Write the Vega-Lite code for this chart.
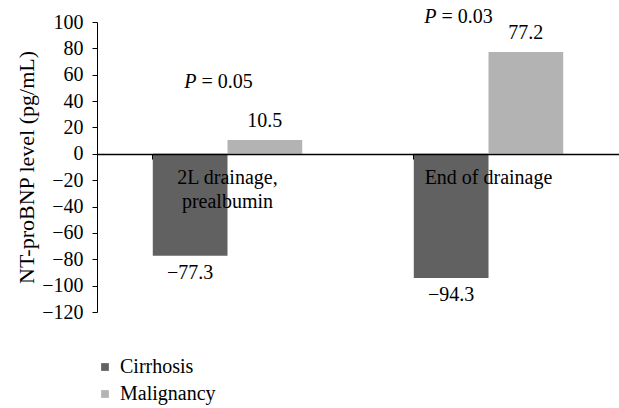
{
  "$schema": "https://vega.github.io/schema/vega-lite/v6.json",
  "width": 522,
  "height": 290,
  "autosize": {"type": "none"},
  "padding": {"left": 97, "top": 22, "right": 0, "bottom": 96},
  "config": {
    "font": "Liberation Serif",
    "view": {"stroke": null},
    "axis": {"labelFont": "Liberation Serif", "titleFont": "Liberation Serif", "labelFontSize": 20, "labelColor": "#000000", "titleColor": "#000000"},
    "axisY": {"labelOverlap": false, "labelFlush": false, "tickSize": 5, "labelPadding": 9, "titlePadding": 3, "titleFontSize": 22, "titleFontWeight": "normal", "grid": false, "domainColor": "#000000", "tickColor": "#000000"},
    "legend": {"labelFont": "Liberation Serif", "labelFontSize": 20}
  },
  "datasets": {
    "bars": [
      {"group": "2L drainage, prealbumin", "series": "Cirrhosis", "value": -77.3},
      {"group": "2L drainage, prealbumin", "series": "Malignancy", "value": 10.5},
      {"group": "End of drainage", "series": "Cirrhosis", "value": -94.3},
      {"group": "End of drainage", "series": "Malignancy", "value": 77.2}
    ],
    "pvals": [
      {"group": "2L drainage, prealbumin", "p": "P", "rest": "= 0.05", "value": 54.5},
      {"group": "End of drainage", "p": "P", "rest": "= 0.03", "value": 104}
    ]
  },
  "encoding": {
    "x": {
      "field": "group",
      "type": "nominal",
      "sort": ["2L drainage, prealbumin", "End of drainage"],
      "scale": {"paddingInner": 0.4275, "paddingOuter": 0.21375},
      "axis": {
        "title": null,
        "orient": "bottom",
        "offset": -158,
        "zindex": 1,
        "bandPosition": 0,
        "labelAngle": 0,
        "labelFontSize": 20,
        "labelFont": "Liberation Serif",
        "labelColor": "#000000",
        "labelBaseline": "top",
        "labelPadding": 8,
        "labelLineHeight": 24,
        "labelOverlap": false,
        "labelExpr": "datum.label == '2L drainage, prealbumin' ? ['2L drainage,', 'prealbumin'] : datum.label",
        "domainColor": "#000000",
        "domainWidth": 1.5,
        "tickColor": "#000000",
        "tickSize": 5,
        "tickWidth": 1,
        "grid": false
      }
    },
    "y": {
      "field": "value",
      "type": "quantitative",
      "scale": {"domain": [-120, 100], "nice": false, "zero": false},
      "axis": {
        "values": [-120, -100, -80, -60, -40, -20, 0, 20, 40, 60, 80, 100],
        "title": "NT-proBNP level (pg/mL)"
      }
    }
  },
  "layer": [
    {
      "data": {"name": "bars"},
      "mark": {"type": "bar"},
      "encoding": {
        "xOffset": {"field": "series", "type": "nominal", "scale": {"paddingInner": 0, "paddingOuter": 0}},
        "color": {
          "field": "series",
          "type": "nominal",
          "scale": {"domain": ["Cirrhosis", "Malignancy"], "range": ["#616161", "#b3b3b3"]},
          "legend": {
            "title": null,
            "orient": "none",
            "legendX": -2,
            "legendY": 335,
            "symbolType": "square",
            "symbolSize": 60,
            "symbolStrokeWidth": 0,
            "labelFontSize": 20,
            "labelFont": "Liberation Serif",
            "labelColor": "#000000",
            "labelOffset": 5,
            "rowPadding": 7
          }
        }
      }
    },
    {
      "data": {"name": "bars"},
      "transform": [{"filter": "datum.value >= 0"}],
      "mark": {"type": "text", "baseline": "middle", "dy": -19, "font": "Liberation Serif", "fontSize": 20, "color": "#000000"},
      "encoding": {
        "xOffset": {"field": "series", "type": "nominal"},
        "text": {"field": "value", "type": "quantitative", "format": ".1f"}
      }
    },
    {
      "data": {"name": "bars"},
      "transform": [{"filter": "datum.value < 0"}],
      "mark": {"type": "text", "baseline": "middle", "dy": 17, "font": "Liberation Serif", "fontSize": 20, "color": "#000000"},
      "encoding": {
        "xOffset": {"field": "series", "type": "nominal"},
        "text": {"field": "value", "type": "quantitative", "format": ".1f"}
      }
    },
    {
      "data": {"name": "pvals"},
      "transform": [{"filter": "datum.group == '2L drainage, prealbumin'"}],
      "mark": {"type": "text", "baseline": "middle", "align": "right", "fontStyle": "italic", "fontWeight": "normal", "dx": -31, "font": "Liberation Serif", "fontSize": 20, "color": "#000000"},
      "encoding": {
        "text": {"field": "p"}
      }
    },
    {
      "data": {"name": "pvals"},
      "transform": [{"filter": "datum.group == '2L drainage, prealbumin'"}],
      "mark": {"type": "text", "baseline": "middle", "align": "left", "dx": -26, "font": "Liberation Serif", "fontSize": 20, "color": "#000000"},
      "encoding": {
        "text": {"field": "rest"}
      }
    },
    {
      "data": {"name": "pvals"},
      "transform": [{"filter": "datum.group == 'End of drainage'"}],
      "mark": {"type": "text", "baseline": "middle", "align": "right", "fontStyle": "italic", "fontWeight": "normal", "dx": -52, "font": "Liberation Serif", "fontSize": 20, "color": "#000000"},
      "encoding": {
        "text": {"field": "p"}
      }
    },
    {
      "data": {"name": "pvals"},
      "transform": [{"filter": "datum.group == 'End of drainage'"}],
      "mark": {"type": "text", "baseline": "middle", "align": "left", "dx": -47, "font": "Liberation Serif", "fontSize": 20, "color": "#000000"},
      "encoding": {
        "text": {"field": "rest"}
      }
    }
  ]
}
